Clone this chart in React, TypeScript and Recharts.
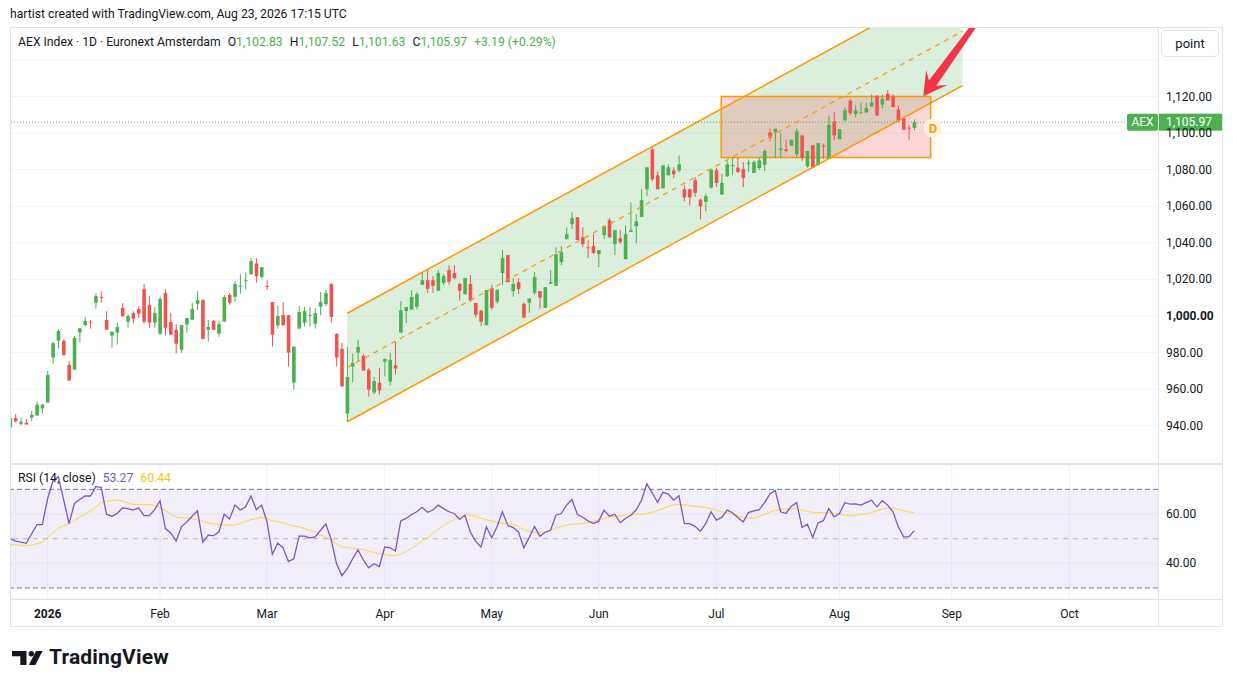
import React from "react";
import {
  ComposedChart,
  Bar,
  Line,
  Area,
  XAxis,
  YAxis,
  CartesianGrid,
  ReferenceLine,
  ReferenceArea,
  ReferenceDot,
} from "recharts";

// bar 1 = 19 Dec 2025 ... bar 170 = 21 Aug 2026 (Euronext trading days)
const opens = [
  939.1, 944.2, 941.1, 941.6, 944.5, 945.6, 949.5, 952.7, 977.3, 986.5,
  986.4, 973.3, 970.7, 990.9, 995.1, 996.9, 1007.3, 1010.4, 997.8, 989.3,
  990.9, 1004.4, 996.9, 1001.6, 1003.8, 1014.7, 1006.0, 996.4, 990.4, 1012.5,
  996.7, 992.4, 981.6, 995.3, 998.0, 1006.7, 1008.7, 992.5, 997.3, 990.4,
  996.9, 1011.5, 1010.5, 1016.2, 1019.3, 1022.9, 1028.7, 1021.3, 1016.4, 1007.6,
  994.9, 1000.5, 1000.5, 963.6, 993.1, 996.4, 1000.2, 995.8, 1005.1, 1006.5,
  1017.5, 990.2, 982.0, 946.7, 972.4, 980.0, 978.2, 970.5, 958.2, 963.5,
  975.1, 964.2, 973.1, 990.9, 1002.7, 1003.5, 1005.1, 1017.1, 1019.6, 1019.6,
  1013.8, 1018.0, 1025.1, 1023.5, 1017.5, 1012.0, 1017.5, 1007.1, 1002.9, 995.1,
  1015.3, 1007.8, 1023.5, 1033.3, 1013.6, 1018.5, 1006.7, 1007.3, 1012.7, 1013.6,
  1004.5, 1017.6, 1016.5, 1029.5, 1042.0, 1050.2, 1054.0, 1043.1, 1037.6, 1038.2,
  1033.8, 1044.2, 1052.4, 1039.3, 1042.5, 1031.1, 1046.0, 1049.1, 1054.2, 1069.3,
  1091.1, 1076.9, 1069.8, 1076.9, 1079.6, 1079.6, 1069.3, 1069.3, 1074.2, 1063.6,
  1062.4, 1070.2, 1079.6, 1066.4, 1076.4, 1082.0, 1081.1, 1080.4, 1083.3, 1078.2,
  1080.9, 1082.7, 1100.4, 1100.5, 1090.7, 1091.1, 1093.1, 1088.4, 1098.7, 1081.8,
  1093.3, 1082.4, 1093.3, 1086.0, 1106.4, 1096.7, 1106.9, 1117.8, 1110.5, 1110.9,
  1111.3, 1114.5, 1120.5, 1115.6, 1121.5, 1120.0, 1112.9, 1108.2, 1102.9, 1102.83,
];
const highs = [
  946.0, 946.5, 944.2, 943.6, 948.2, 953.1, 951.8, 970.0, 986.0, 992.9,
  987.5, 975.5, 989.1, 993.3, 999.5, 997.8, 1012.5, 1013.6, 1002.7, 991.8,
  996.4, 1007.1, 1001.1, 1002.7, 1005.5, 1017.5, 1010.9, 1004.9, 1010.4, 1014.7,
  1001.6, 995.6, 995.1, 998.9, 1007.3, 1013.6, 1009.3, 997.8, 997.8, 997.3,
  1011.5, 1012.5, 1019.1, 1022.9, 1023.8, 1031.6, 1031.6, 1026.7, 1019.6, 1007.6,
  1005.5, 1007.6, 1000.5, 983.6, 1005.5, 1004.9, 1004.9, 1004.4, 1013.1, 1014.2,
  1018.0, 990.7, 985.3, 983.1, 979.5, 986.9, 979.3, 971.6, 966.7, 971.6,
  976.8, 979.6, 985.6, 1008.2, 1004.9, 1014.2, 1013.1, 1024.0, 1025.6, 1021.8,
  1025.1, 1022.9, 1027.8, 1027.8, 1018.2, 1020.7, 1022.4, 1007.1, 1003.5, 1014.2,
  1016.9, 1014.7, 1036.0, 1033.3, 1020.7, 1020.7, 1007.3, 1009.6, 1024.0, 1013.6,
  1015.8, 1025.1, 1037.6, 1038.2, 1048.5, 1056.7, 1054.0, 1048.5, 1041.5, 1044.7,
  1036.0, 1049.6, 1053.5, 1046.9, 1046.9, 1049.6, 1062.2, 1055.6, 1069.3, 1081.3,
  1092.2, 1079.1, 1082.4, 1082.9, 1081.3, 1087.8, 1071.5, 1069.8, 1076.0, 1064.2,
  1066.9, 1080.2, 1081.1, 1077.8, 1085.1, 1086.5, 1086.9, 1084.2, 1085.6, 1085.1,
  1086.4, 1091.1, 1102.5, 1102.4, 1100.0, 1096.4, 1096.4, 1102.5, 1098.7, 1090.2,
  1093.3, 1094.5, 1094.2, 1109.6, 1111.6, 1102.2, 1114.2, 1118.7, 1115.5, 1116.7,
  1116.7, 1121.1, 1120.5, 1121.1, 1123.6, 1121.1, 1115.1, 1108.2, 1104.7, 1107.52,
];
const lows = [
  937.8, 941.8, 940.2, 940.7, 942.4, 945.6, 946.7, 952.7, 974.0, 982.2,
  978.2, 964.7, 970.7, 985.5, 994.2, 993.1, 1004.0, 1007.3, 992.5, 982.7,
  984.4, 999.8, 993.6, 995.8, 998.9, 995.8, 993.6, 993.6, 989.8, 989.3,
  989.8, 979.5, 980.0, 990.9, 998.0, 1003.3, 987.1, 986.0, 992.5, 988.7,
  996.9, 1006.2, 1007.8, 1012.2, 1014.5, 1022.4, 1018.2, 1020.4, 1014.4, 983.3,
  993.1, 994.5, 972.4, 959.8, 993.1, 994.2, 994.2, 993.1, 1000.5, 1005.5,
  996.4, 972.4, 961.5, 942.4, 963.6, 975.1, 970.2, 956.0, 957.1, 957.1,
  966.9, 962.0, 968.0, 990.9, 996.2, 1003.5, 1003.5, 1017.1, 1012.7, 1012.7,
  1013.8, 1016.9, 1017.1, 1020.2, 1008.4, 1011.5, 1007.8, 999.1, 994.7, 994.7,
  1003.5, 1006.7, 1016.9, 1018.5, 1010.5, 1012.0, 999.1, 1001.8, 1011.6, 1004.0,
  1004.5, 1017.6, 1016.5, 1027.8, 1042.0, 1047.5, 1041.5, 1037.6, 1031.6, 1034.0,
  1026.7, 1042.0, 1042.5, 1033.3, 1039.3, 1031.1, 1046.0, 1039.8, 1054.2, 1065.5,
  1073.6, 1069.3, 1069.8, 1076.9, 1075.3, 1078.5, 1062.7, 1060.5, 1065.1, 1052.9,
  1057.3, 1069.6, 1070.5, 1066.4, 1076.0, 1077.1, 1078.3, 1070.5, 1078.7, 1078.2,
  1080.0, 1079.3, 1095.6, 1086.5, 1086.5, 1089.3, 1093.1, 1086.5, 1084.9, 1081.1,
  1081.1, 1082.4, 1086.0, 1086.0, 1096.0, 1096.7, 1106.9, 1109.6, 1108.7, 1110.9,
  1111.3, 1114.5, 1109.6, 1113.5, 1117.8, 1114.2, 1106.0, 1101.8, 1096.4, 1101.63,
];
const closes = [
  944.2, 942.4, 942.2, 940.7, 946.0, 951.5, 951.5, 967.8, 985.1, 991.8,
  978.7, 964.7, 988.0, 993.3, 997.3, 996.5, 1010.9, 1010.0, 992.5, 991.3,
  994.0, 999.8, 1000.0, 998.5, 1001.3, 996.9, 996.4, 1001.6, 1009.3, 993.6,
  989.8, 984.9, 995.1, 998.9, 1003.8, 1008.7, 987.6, 994.0, 992.5, 995.6,
  1010.4, 1007.3, 1017.5, 1016.5, 1019.6, 1030.0, 1021.8, 1026.7, 1016.0, 989.8,
  1000.0, 995.1, 980.0, 983.1, 1002.2, 1002.7, 1000.5, 1001.6, 1007.6, 1012.5,
  999.5, 977.3, 961.5, 966.7, 974.4, 983.1, 970.2, 959.8, 964.5, 959.3,
  976.5, 976.0, 971.3, 1003.1, 1004.9, 1010.4, 1012.0, 1019.6, 1014.9, 1016.5,
  1023.5, 1021.8, 1018.7, 1020.7, 1013.8, 1020.7, 1008.4, 1000.7, 996.9, 1014.2,
  1004.5, 1014.2, 1031.6, 1018.5, 1017.5, 1014.7, 999.1, 1009.6, 1021.3, 1010.0,
  1015.8, 1018.5, 1033.8, 1034.9, 1044.7, 1053.5, 1041.5, 1039.3, 1037.3, 1034.5,
  1036.0, 1049.1, 1043.1, 1046.9, 1040.4, 1044.7, 1046.9, 1051.8, 1063.3, 1081.3,
  1074.7, 1069.3, 1082.4, 1081.3, 1077.5, 1082.9, 1064.9, 1064.9, 1067.3, 1060.0,
  1065.5, 1080.0, 1072.7, 1072.7, 1082.9, 1082.5, 1078.7, 1075.6, 1083.8, 1084.2,
  1085.1, 1090.2, 1097.5, 1102.4, 1091.5, 1090.2, 1096.4, 1100.9, 1086.5, 1090.2,
  1081.1, 1094.5, 1092.7, 1104.5, 1098.7, 1102.2, 1112.4, 1110.9, 1112.4, 1111.3,
  1113.6, 1116.7, 1109.6, 1118.7, 1117.8, 1114.2, 1106.9, 1101.8, 1102.78, 1105.97,
];

const rsiValues = [
  50, 49, 48.6, 48.1, 52, 55.7, 55.7, 66.3, 73.5, 75.2,
  65.6, 56.1, 64.3, 65.9, 67.3, 67.3, 71.1, 70.8, 59.9, 59.1,
  60.2, 62.5, 62.2, 61.6, 62.5, 59.3, 59.3, 61.8, 65.4, 54.1,
  52.3, 49, 54.8, 56.8, 59.1, 61.3, 48.6, 51.4, 51.2, 52.7,
  59.9, 58, 63.6, 61.6, 62.9, 67.3, 61.8, 63.6, 56.8, 43.6,
  48.2, 46.3, 40.7, 41.8, 51, 51, 50.3, 50.7, 53.4, 55.9,
  49.6, 39.8, 35, 37.8, 41.8, 45.5, 41.4, 38.2, 39.8, 38.7,
  46.6, 46.3, 45, 57.2, 58.2, 59.8, 60.9, 62.7, 60.7, 61.6,
  63.6, 62.2, 60.9, 60.2, 57.8, 59.5, 52.7, 48.9, 46.6, 54.8,
  50.4, 54.8, 60.9, 55.4, 54.5, 52.7, 46.3, 50.4, 55, 51,
  52.6, 53.4, 59.5, 60.2, 63.6, 65.9, 59.9, 58.7, 57.2, 56.1,
  57.1, 61.6, 59.1, 59.9, 56.5, 58.2, 59.5, 61.6, 65.6, 72.2,
  68.6, 64.7, 68.8, 68.1, 65.6, 67.4, 56.1, 56.1, 55, 53,
  56.1, 60.9, 57.5, 58.6, 61.6, 60.5, 58.6, 56.8, 60.6, 61.3,
  61.8, 64.6, 68.1, 69.5, 60.9, 60.2, 63.2, 64.6, 54.5, 55.9,
  50.5, 56.4, 57.3, 62.2, 58.8, 60.2, 64.6, 64, 64.1, 63.6,
  64.6, 65.6, 62.9, 65.4, 63.6, 60.9, 54.8, 50.7, 50.8, 53.27,
];
const rsiAverage = [
  47.7, 47.5, 47.3, 47.1, 47.4, 47.9, 48.6, 50.5, 52.5, 54.2,
  55.2, 56.1, 57.4, 58.6, 59.9, 61.2, 62.8, 64.6, 65.1, 65.4,
  65.6, 65.2, 64.5, 63.9, 63.9, 63.9, 63.9, 63.4, 62.6, 61.5,
  59.8, 58.7, 58.5, 58.3, 58.2, 57.6, 57, 56.4, 56, 55.8,
  55.6, 55.4, 55.5, 56.2, 57, 57.7, 58.2, 58.6, 58, 57.3,
  56.9, 56.5, 55.8, 55.2, 54.8, 54.1, 53.4, 52.7, 51.6, 50.5,
  49.4, 47.9, 46.7, 46.4, 46.1, 45.9, 45.6, 45, 44.4, 43.9,
  43.5, 43.2, 43.1, 43.8, 44.8, 46, 47.5, 49.2, 50.5, 52.1,
  53.8, 55.3, 56.6, 58, 59, 59.8, 59.6, 59.1, 58.3, 57.7,
  57.1, 56.6, 56.3, 56, 55.6, 54.9, 53.6, 53, 52.6, 52.4,
  52.8, 53.5, 54.3, 54.9, 55.5, 55.8, 56, 56.2, 56.5, 57,
  57.7, 58.2, 58.6, 59, 59.3, 59.5, 59.6, 59.8, 59.9, 60.2,
  60.7, 61.4, 62.2, 63, 63.7, 63.9, 63.7, 63.4, 63.1, 62.9,
  62.6, 62.2, 61.6, 60.9, 60.4, 59.9, 59.3, 58.8, 58.3, 58.3,
  59, 59.9, 60.8, 61.5, 61.8, 62, 62.2, 62.1, 61.6, 61,
  60.7, 60.6, 60.6, 60.5, 60.3, 60, 59.5, 59.3, 59.5, 59.8,
  60, 60.6, 61.3, 62, 62.5, 62.4, 61.9, 61.3, 60.8, 60.44,
];

const monthTicks = [8, 29, 49, 71, 91, 111, 133, 156, 177, 199];
const monthLabels = ["2026", "Feb", "Mar", "Apr", "May", "Jun", "Jul", "Aug", "Sep", "Oct"];
const priceTicks = [940, 960, 980, 1000, 1020, 1040, 1060, 1080, 1100, 1120, 1140];
const rsiTicks = [40, 60];

// drawings
const channelBars = [64, 179];
const channelLower = [942.2, 1126.0];
const channelUpper = [1001.5, 1185.3];
const channelMid = [971.85, 1155.65];
const zoneBars = [133.9, 173.05];
const zonePrices = [1086.7, 1120];
const arrowTail = { x: 181.95, y: 1162 };
const arrowTip = { x: 171.67, y: 1120.2 };
const dividendMark = { x: 173.5, y: 1102.6 };
const lastClose = 1105.97;

const X_DOMAIN = [0.96, 215.54];
const PRICE_DOMAIN = [919.1, 1158];
const RSI_DOMAIN = [25.52, 80.28];

const UP = "#4caf50";
const DOWN = "#ef5350";
const ORANGE = "#ff9800";
const GRID = "#f0f3fa";
const BORDER = "#e0e3eb";
const TEXT = "#131722";
const PURPLE = "#7e57c2";
const YELLOW = "#fdd835";
const FONT = "Roboto, 'Liberation Sans', sans-serif";

const candles = closes.map((c, k) => ({ i: k + 1, o: opens[k], h: highs[k], l: lows[k], c }));
const rsiData = rsiValues.map((r, k) => ({ i: k + 1, rsi: r, ma: rsiAverage[k] }));
const channel = channelBars.map((i, k) => ({
  i,
  lo: channelLower[k],
  hi: channelUpper[k],
  mid: channelMid[k],
}));

const fmt = (v: number) =>
  v.toLocaleString("en-US", { minimumFractionDigits: 2, maximumFractionDigits: 2 });

const Candle = (props: any) => {
  const { x, y, width, height, payload } = props;
  if (!payload || x == null) return null;
  const { o, h, l, c } = payload;
  const top = Math.min(y, y + height);
  const span = Math.abs(height);
  const py = (v: number) => top + ((h - v) / (h - l || 1)) * span;
  const color = c >= o ? UP : DOWN;
  const bt = py(Math.max(o, c));
  const bb = py(Math.min(o, c));
  const cx = x + width / 2;
  return (
    <g>
      <line x1={cx} x2={cx} y1={top} y2={top + span} stroke={color} strokeWidth={1} />
      <rect x={x} y={bt} width={width} height={Math.max(bb - bt, 1)} fill={color} />
    </g>
  );
};

const PriceTick = (props: any) => {
  const { x, y, payload } = props;
  if (payload.value === 1140) return <g />;
  return (
    <text
      x={x}
      y={y + 4}
      fontSize={12}
      fontFamily={FONT}
      fill={TEXT}
      fontWeight={payload.value === 1000 ? 700 : 400}
    >
      {fmt(payload.value)}
    </text>
  );
};

const RsiTick = (props: any) => {
  const { x, y, payload } = props;
  return (
    <text x={x} y={y + 4} fontSize={12} fontFamily={FONT} fill={TEXT}>
      {fmt(payload.value)}
    </text>
  );
};

const MonthTick = (props: any) => {
  const { x, y, payload } = props;
  const k = monthTicks.indexOf(payload.value);
  return (
    <text
      x={x}
      y={y + 10.5}
      textAnchor="middle"
      fontSize={12}
      fontFamily={FONT}
      fill={TEXT}
      fontWeight={k === 0 ? 700 : 400}
    >
      {monthLabels[k]}
    </text>
  );
};

const PriceTag = (props: any) => {
  const vb = props.viewBox || {};
  const right = vb.x + vb.width;
  const y = vb.y;
  return (
    <g fontFamily={FONT} fontSize={12}>
      <rect x={right - 31} y={y - 8.5} width={31} height={17} rx={2} fill={UP} />
      <text x={right - 15.5} y={y + 4} textAnchor="middle" fill="#fff">
        AEX
      </text>
      <rect x={right} y={y - 8.5} width={64} height={17} fill={UP} />
      <text x={right + 8} y={y + 4} fill="#fff">
        {fmt(lastClose)}
      </text>
    </g>
  );
};

const ArrowShape = (props: any) => {
  const { x1, y1, x2, y2, clipPath } = props;
  if (x1 == null) return null;
  const dx = x2 - x1;
  const dy = y2 - y1;
  const len = Math.hypot(dx, dy) || 1;
  const ux = dx / len;
  const uy = dy / len;
  const nx = -uy;
  const ny = ux;
  const head = 23;
  const neck = 16;
  const half = 13;
  const p = (px: number, py: number) => `${px},${py}`;
  const bx = x2 - ux * head;
  const by = y2 - uy * head;
  const kx = x2 - ux * neck;
  const ky = y2 - uy * neck;
  const pts = [
    p(x1 + nx * 2.5, y1 + ny * 2.5),
    p(kx + nx * 4.5, ky + ny * 4.5),
    p(bx + nx * half, by + ny * half),
    p(x2, y2),
    p(bx - nx * half, by - ny * half),
    p(kx - nx * 4.5, ky - ny * 4.5),
    p(x1 - nx * 2.5, y1 - ny * 2.5),
  ].join(" ");
  return <polygon points={pts} fill="#f23645" clipPath={clipPath} />;
};

const DividendShape = (props: any) => {
  const { cx, cy } = props;
  if (cx == null) return null;
  return (
    <g>
      <circle cx={cx} cy={cy} r={9.5} fill="#fff3e0" />
      <text
        x={cx}
        y={cy + 4.5}
        textAnchor="middle"
        fontSize={13}
        fontWeight={700}
        fontFamily={FONT}
        fill={ORANGE}
      >
        D
      </text>
    </g>
  );
};

const line = (style: React.CSSProperties) => (
  <div style={{ position: "absolute", background: BORDER, ...style }} />
);

const App: React.FC = () => {
  return (
    <div
      style={{
        position: "absolute",
        left: 0,
        top: 0,
        width: 1233,
        height: 687,
        background: "#fff",
        fontFamily: FONT,
        color: TEXT,
        overflow: "hidden",
      }}
    >
      <div style={{ position: "absolute", left: 10, top: 6, fontSize: 12.2, lineHeight: "16px" }}>
        hartist created with TradingView.com, Aug 23, 2026 17:15 UTC
      </div>

      <div style={{ position: "absolute", left: 10, top: 27 }}>
        <ComposedChart
          width={1212}
          height={437}
          data={candles}
          margin={{ top: 0, right: 0, bottom: 0, left: 0 }}
        >
          <CartesianGrid stroke={GRID} strokeWidth={1} />
          <XAxis
            dataKey="i"
            type="number"
            domain={X_DOMAIN}
            allowDataOverflow
            ticks={monthTicks}
            height={0}
            tick={false}
            axisLine={false}
            tickLine={false}
          />
          <YAxis
            orientation="right"
            width={64}
            type="number"
            domain={PRICE_DOMAIN}
            allowDataOverflow
            ticks={priceTicks}
            interval={0}
            tick={<PriceTick />}
            axisLine={false}
            tickLine={false}
          />
          <Area
            data={channel}
            dataKey={(d: any) => [d.lo, d.hi]}
            type="linear"
            stroke="none"
            fill={UP}
            fillOpacity={0.2}
            isAnimationActive={false}
          />
          <ReferenceArea
            x1={zoneBars[0]}
            x2={zoneBars[1]}
            y1={zonePrices[0]}
            y2={zonePrices[1]}
            fill="#f23645"
            fillOpacity={0.2}
            stroke={ORANGE}
            strokeWidth={1.5}
          />
          <Line
            data={channel}
            dataKey="hi"
            type="linear"
            stroke={ORANGE}
            strokeWidth={1.5}
            dot={false}
            isAnimationActive={false}
          />
          <Line
            data={channel}
            dataKey="lo"
            type="linear"
            stroke={ORANGE}
            strokeWidth={1.5}
            dot={false}
            isAnimationActive={false}
          />
          <Line
            data={channel}
            dataKey="mid"
            type="linear"
            stroke={ORANGE}
            strokeWidth={1.2}
            strokeDasharray="5 5"
            dot={false}
            isAnimationActive={false}
          />
          <Bar
            dataKey={(d: any) => [d.l, d.h]}
            barSize={3.6}
            shape={<Candle />}
            isAnimationActive={false}
          />
          <ReferenceLine
            y={lastClose}
            stroke={UP}
            strokeDasharray="1 2"
            label={<PriceTag />}
          />
          <ReferenceDot
            x={dividendMark.x}
            y={dividendMark.y}
            shape={<DividendShape />}
          />
          <ReferenceLine
            segment={[arrowTail, arrowTip]}
            ifOverflow="hidden"
            shape={<ArrowShape />}
          />
        </ComposedChart>
      </div>

      <div style={{ position: "absolute", left: 10, top: 464 }}>
        <ComposedChart
          width={1212}
          height={162}
          data={rsiData}
          margin={{ top: 0, right: 0, bottom: 0, left: 0 }}
        >
          <CartesianGrid stroke={GRID} strokeWidth={1} />
          <XAxis
            dataKey="i"
            type="number"
            domain={X_DOMAIN}
            allowDataOverflow
            ticks={monthTicks}
            interval={0}
            height={27}
            tick={<MonthTick />}
            axisLine={false}
            tickLine={false}
          />
          <YAxis
            orientation="right"
            width={64}
            type="number"
            domain={RSI_DOMAIN}
            allowDataOverflow
            ticks={rsiTicks}
            interval={0}
            tick={<RsiTick />}
            axisLine={false}
            tickLine={false}
          />
          <ReferenceArea y1={30} y2={70} fill={PURPLE} fillOpacity={0.1} stroke="none" />
          <ReferenceLine y={70} stroke="#787b86" strokeDasharray="5 3" />
          <ReferenceLine y={50} stroke="#787b86" strokeOpacity={0.5} strokeDasharray="5 5" />
          <ReferenceLine y={30} stroke="#787b86" strokeDasharray="5 3" />
          <Line
            dataKey="ma"
            type="linear"
            stroke={YELLOW}
            strokeWidth={1}
            dot={false}
            isAnimationActive={false}
          />
          <Line
            dataKey="rsi"
            type="linear"
            stroke={PURPLE}
            strokeWidth={1.3}
            dot={false}
            isAnimationActive={false}
          />
        </ComposedChart>
      </div>

      {line({ left: 10, top: 27, width: 1213, height: 1 })}
      {line({ left: 10, top: 27, width: 1, height: 600 })}
      {line({ left: 1222, top: 27, width: 1, height: 600 })}
      {line({ left: 10, top: 626, width: 1213, height: 1 })}
      {line({ left: 10, top: 463, width: 1213, height: 2 })}
      {line({ left: 10, top: 599, width: 1213, height: 1 })}
      {line({ left: 1158, top: 27, width: 1, height: 600 })}

      <div
        style={{
          position: "absolute",
          left: 18,
          top: 34,
          fontSize: 12.2,
          lineHeight: "16px",
          whiteSpace: "nowrap",
        }}
      >
        <span>AEX Index · 1D · Euronext Amsterdam</span>
        <span style={{ marginLeft: 7 }}>O</span>
        <span style={{ color: UP }}>{fmt(opens[169])}</span>
        <span style={{ marginLeft: 7 }}>H</span>
        <span style={{ color: UP }}>{fmt(highs[169])}</span>
        <span style={{ marginLeft: 7 }}>L</span>
        <span style={{ color: UP }}>{fmt(lows[169])}</span>
        <span style={{ marginLeft: 7 }}>C</span>
        <span style={{ color: UP }}>{fmt(closes[169])}</span>
        <span style={{ color: UP, marginLeft: 7 }}>+3.19 (+0.29%)</span>
      </div>

      <div
        style={{
          position: "absolute",
          left: 1161,
          top: 30,
          width: 56,
          height: 25,
          border: `1px solid ${BORDER}`,
          borderRadius: 5,
          fontSize: 13,
          lineHeight: "25px",
          textAlign: "center",
          background: "#fff",
        }}
      >
        point
      </div>

      <div
        style={{
          position: "absolute",
          left: 18,
          top: 470,
          fontSize: 12.2,
          lineHeight: "16px",
          whiteSpace: "nowrap",
        }}
      >
        <span>RSI (14, close)</span>
        <span style={{ color: PURPLE, marginLeft: 7 }}>{rsiValues[169].toFixed(2)}</span>
        <span style={{ color: "#f5c518", marginLeft: 7 }}>{rsiAverage[169].toFixed(2)}</span>
      </div>

      <div style={{ position: "absolute", left: 12, top: 651 }}>
        <svg width={32} height={15} viewBox="0 0 32 15">
          <path d="M0 0 H14.5 V14 H8.3 V5.2 H0 Z" fill={TEXT} />
          <circle cx={19.3} cy={2.7} r={2.7} fill={TEXT} />
          <path d="M24 0 H30.5 L23.3 14 H16.8 Z" fill={TEXT} />
        </svg>
      </div>
      <div
        style={{
          position: "absolute",
          left: 49,
          top: 644,
          fontSize: 21,
          fontWeight: 700,
          lineHeight: "26px",
          letterSpacing: 0.15,
        }}
      >
        TradingView
      </div>
    </div>
  );
};

export default App;
